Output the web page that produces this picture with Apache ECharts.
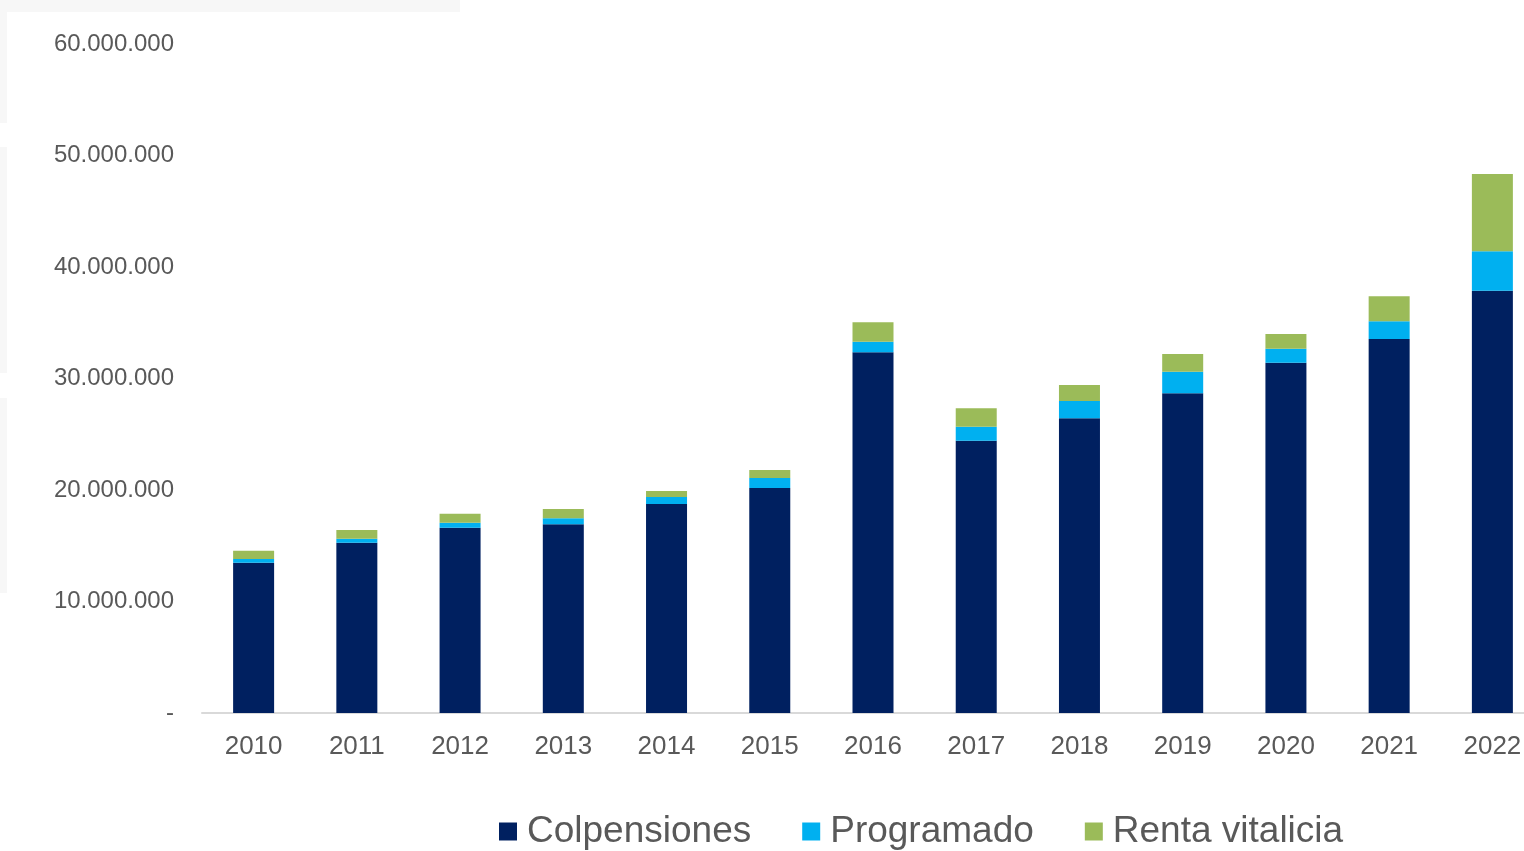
<!DOCTYPE html>
<html>
<head>
    <meta charset="utf-8">
    <title>Colpensiones, Programado, Renta vitalicia</title>
    <script src="https://cdn.jsdelivr.net/npm/echarts/dist/echarts.min.js"></script>
    <style>
        html, body { margin: 0; padding: 0; background: #fff; }
    </style>
</head>
<body>
<div id="chart-container" style="width: 1524px; height: 851px;"></div>
<script>
    // años
    var years = ['2010', '2011', '2012', '2013', '2014', '2015', '2016',
                 '2017', '2018', '2019', '2020', '2021', '2022'];

    // valores
    var colpensiones = [13480000, 15270000, 16620000, 16920000, 18740000, 20180000, 32350000,
                        24420000, 26430000, 28670000, 31420000, 33540000, 37880000];
    var programado = [330000, 360000, 450000, 540000, 630000, 900000, 950000,
                      1260000, 1550000, 1940000, 1250000, 1590000, 3530000];
    var rentaVitalicia = [750000, 780000, 800000, 840000, 540000, 710000, 1740000,
                          1650000, 1440000, 1590000, 1320000, 2240000, 6930000];

    var seriesNames = ['Colpensiones', 'Programado', 'Renta vitalicia'];
    var seriesColors = ['#002060', '#00B0F0', '#9BBB59'];
    var seriesData = [colpensiones, programado, rentaVitalicia];

    var fontFamily = '"Liberation Sans", Arial, sans-serif';

    function formatMiles(value) {
        if (value === 0) return '-';
        return String(value).replace(/\B(?=(\d{3})+(?!\d))/g, '.');
    }

    var option = {
        animation: false,
        backgroundColor: '#ffffff',
        textStyle: { fontFamily: fontFamily },
        graphic: [
            { type: 'rect', shape: { x: 0, y: 0, width: 460, height: 12 }, style: { fill: '#f7f7f7' }, silent: true },
            { type: 'rect', shape: { x: 0, y: 12, width: 7, height: 111 }, style: { fill: '#f7f7f7' }, silent: true },
            { type: 'rect', shape: { x: 0, y: 147, width: 7, height: 226 }, style: { fill: '#f7f7f7' }, silent: true },
            { type: 'rect', shape: { x: 0, y: 398, width: 7, height: 195 }, style: { fill: '#f7f7f7' }, silent: true }
        ],
        legend: {
            data: seriesNames,
            left: 499,
            top: 813,
            padding: 0,
            itemWidth: 18,
            itemHeight: 18,
            itemGap: 51,
            icon: 'rect',
            textStyle: {
                color: '#595959',
                fontSize: 37,
                fontFamily: fontFamily,
                padding: [0, 0, 0, 5]
            }
        },
        grid: {
            left: 202,
            width: 1342,
            top: 44,
            bottom: 138,
            containLabel: false,
            outerBoundsMode: 'none'
        },
        xAxis: {
            type: 'category',
            data: years,
            axisLine: {
                lineStyle: { color: '#d9d9d9', width: 2 }
            },
            axisTick: { show: false },
            axisLabel: {
                color: '#595959',
                fontSize: 26,
                margin: 21,
                interval: 0
            }
        },
        yAxis: {
            type: 'value',
            min: 0,
            max: 60000000,
            interval: 10000000,
            axisLine: { show: false },
            axisTick: { show: false },
            splitLine: { show: false },
            axisLabel: {
                color: '#595959',
                fontSize: 24,
                margin: 28,
                padding: [4, 0, 0, 0],
                formatter: formatMiles
            }
        },
        series: seriesNames.map(function (name, i) {
            return {
                name: name,
                type: 'bar',
                stack: 'total',
                barWidth: 41,
                itemStyle: { color: seriesColors[i] },
                data: seriesData[i]
            };
        })
    };

    var chart = echarts.init(document.getElementById('chart-container'));
    chart.setOption(option);
</script>
</body>
</html>
